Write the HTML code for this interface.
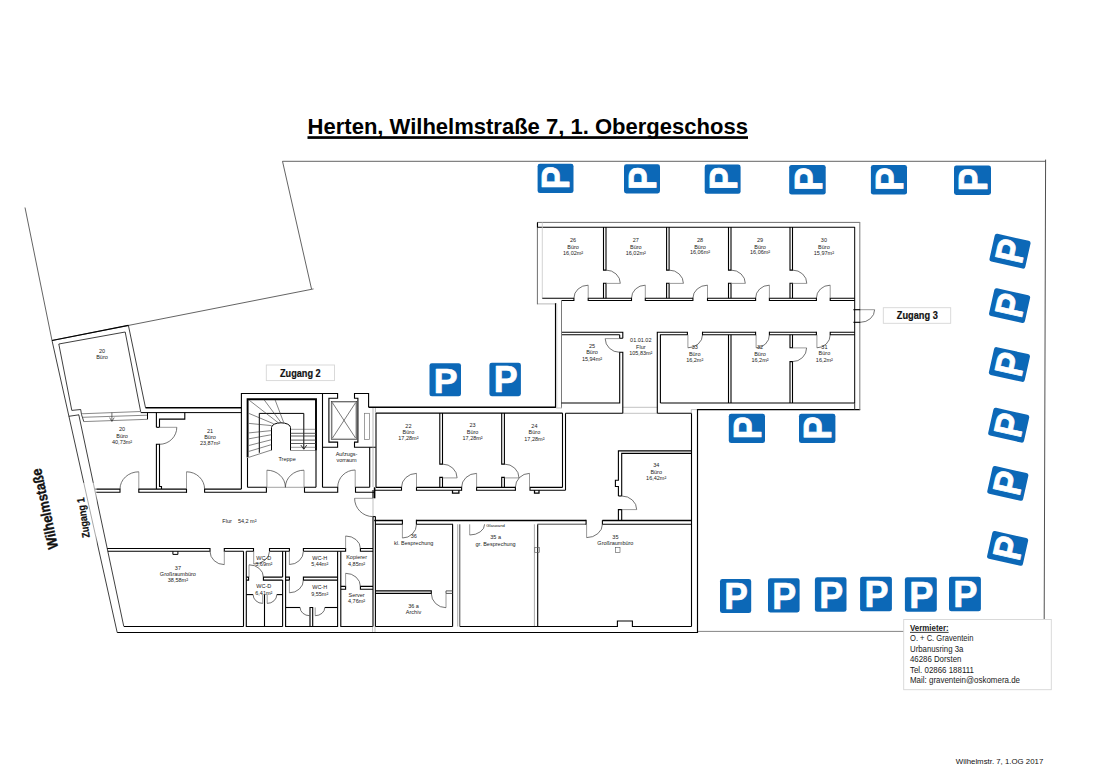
<!DOCTYPE html>
<html lang="de">
<head>
<meta charset="utf-8">
<title>Herten, Wilhelmstraße 7, 1. Obergeschoss</title>
<style>
html,body{margin:0;padding:0;background:#fff;}
body{width:1099px;height:774px;overflow:hidden;}
svg{display:block;}
svg text{font-family:"Liberation Sans",sans-serif;}
</style>
</head>
<body>
<svg width="1099" height="774" viewBox="0 0 1099 774">
<rect width="1099" height="774" fill="#fff"/>
<path d="M25 207.5 L52 340.5" fill="none" stroke="#3c3c3c" stroke-width="0.8" stroke-linejoin="miter"/>
<path d="M52 340.5 L311.6 289.3 L282.5 161.3 L1045.6 161.3" fill="none" stroke="#3c3c3c" stroke-width="0.8" stroke-linejoin="miter"/>
<line x1="1045.6" y1="159.6" x2="1044.2" y2="619" stroke="#3c3c3c" stroke-width="0.9"/>
<line x1="311.6" y1="289.3" x2="313.6" y2="288.9" stroke="#3c3c3c" stroke-width="0.7"/>
<line x1="697.5" y1="631.4" x2="904" y2="631.4" stroke="#777" stroke-width="0.9"/>
<line x1="52" y1="340.5" x2="128.4" y2="325.4" stroke="#000" stroke-width="1.25"/>
<line x1="128.4" y1="325.4" x2="145.5" y2="407.7" stroke="#000" stroke-width="0.75"/>
<line x1="52" y1="340.5" x2="117.2" y2="632.5" stroke="#000" stroke-width="0.75"/>
<path d="M71.8 410.4 L58.8 344 L125.2 332 L140.7 411.8" fill="none" stroke="#000" stroke-width="0.75" stroke-linejoin="miter"/>
<path d="M71.8 410.4 L80.7 409.5 L81.5 414.5 L83.8 421.6" fill="none" stroke="#000" stroke-width="0.75" stroke-linejoin="miter"/>
<line x1="68.8" y1="416.3" x2="79" y2="414.8" stroke="#000" stroke-width="0.75"/>
<line x1="78.8" y1="414.8" x2="123.8" y2="626.5" stroke="#000" stroke-width="0.75"/>
<line x1="81.1" y1="413.8" x2="140.7" y2="411.5" stroke="#555" stroke-width="0.7"/>
<line x1="82.5" y1="417.3" x2="147.5" y2="415.2" stroke="#555" stroke-width="0.7"/>
<line x1="83.8" y1="421.6" x2="147.5" y2="419.3" stroke="#555" stroke-width="0.7"/>
<line x1="147.5" y1="412.6" x2="147.5" y2="419.3" stroke="#000" stroke-width="1"/>
<line x1="111.9" y1="412.5" x2="111.9" y2="421.2" stroke="#333" stroke-width="0.7"/>
<path d="M109.6 417.6 L111.9 421.4 L114.2 417.6" fill="none" stroke="#333" stroke-width="0.7" stroke-linejoin="miter"/>
<line x1="145.5" y1="407.7" x2="241.4" y2="407.7" stroke="#000" stroke-width="1.5"/>
<line x1="140.7" y1="412.6" x2="241.4" y2="412.6" stroke="#000" stroke-width="1"/>
<path d="M159.5 427.3 L159.5 419.1 L184.8 419.1 L184.8 412.6" fill="none" stroke="#000" stroke-width="1.1" stroke-linejoin="miter"/>
<line x1="156.4" y1="412.6" x2="156.4" y2="427.3" stroke="#000" stroke-width="1.1"/>
<line x1="156.4" y1="427.3" x2="159.5" y2="427.3" stroke="#000" stroke-width="1.1"/>
<path d="M156.4 489.1 L156.4 444.3 L159.5 444.3 L159.5 486.5 L161.5 486.5 L161.5 489.1" fill="none" stroke="#000" stroke-width="1.1" stroke-linejoin="miter"/>
<line x1="159.5" y1="427.3" x2="176.8" y2="427.3" stroke="#7a7a7a" stroke-width="0.75"/>
<path d="M176.8 427.3 A17.3 17 0 0 1 159.5 444.3" fill="none" stroke="#444" stroke-width="0.75"/>
<path d="M95 489.1 L120 489.1 L120 492.3 L95.7 492.3" fill="none" stroke="#000" stroke-width="1.1" stroke-linejoin="miter"/>
<line x1="138.8" y1="489.1" x2="186.5" y2="489.1" stroke="#000" stroke-width="1.1"/>
<line x1="138.8" y1="492.3" x2="186.5" y2="492.3" stroke="#000" stroke-width="1.1"/>
<line x1="138.8" y1="488.55" x2="138.8" y2="492.85" stroke="#000" stroke-width="1.1"/>
<line x1="186.5" y1="488.55" x2="186.5" y2="492.85" stroke="#000" stroke-width="1.1"/>
<path d="M241.4 489.1 L204.6 489.1 L204.6 492.3 L266.4 492.3 L266.4 487.3 L247.5 487.3" fill="none" stroke="#000" stroke-width="1.1" stroke-linejoin="miter"/>
<line x1="138.8" y1="489.1" x2="138.8" y2="471.8" stroke="#7a7a7a" stroke-width="0.75"/>
<path d="M138.8 471.8 A18.8 17.3 0 0 0 120 489.1" fill="none" stroke="#444" stroke-width="0.75"/>
<line x1="186.5" y1="489.1" x2="186.5" y2="471.8" stroke="#7a7a7a" stroke-width="0.75"/>
<path d="M186.5 471.8 A18.1 17.3 0 0 1 204.6 489.1" fill="none" stroke="#444" stroke-width="0.75"/>
<path d="M241.4 489.1 L241.4 393.5 L337.6 393.5 L337.6 398.3 L328.9 398.3 L328.9 442.1 L337.6 442.1 L337.6 447.2 L322.5 447.2" fill="none" stroke="#000" stroke-width="1.1" stroke-linejoin="miter"/>
<line x1="322.5" y1="393.5" x2="322.5" y2="487.3" stroke="#000" stroke-width="1.1"/>
<path d="M247.6 457.5 L247.6 399.2 L316 399.2 L316 450.3" fill="none" stroke="#000" stroke-width="1.9" stroke-linejoin="miter"/>
<line x1="247.5" y1="458" x2="247.5" y2="487.3" stroke="#000" stroke-width="1.1"/>
<line x1="316" y1="450" x2="316" y2="487.3" stroke="#000" stroke-width="1.1"/>
<path d="M316 487.3 L304.5 487.3 L304.5 492.3 L337.7 492.3 L337.7 487.3 L322.5 487.3" fill="none" stroke="#000" stroke-width="1.1" stroke-linejoin="miter"/>
<path d="M369.7 487.3 L355.5 487.3 L355.5 492.3 L374.1 492.3" fill="none" stroke="#000" stroke-width="1.1" stroke-linejoin="miter"/>
<path d="M368.6 407.2 L368.6 393.5 L354.5 393.5 L354.5 398.3 L357.9 398.3 L357.9 442.1 L354.5 442.1 L354.5 447.2 L375.7 447.2" fill="none" stroke="#000" stroke-width="1.1" stroke-linejoin="miter"/>
<line x1="369.7" y1="447.2" x2="369.7" y2="487.3" stroke="#000" stroke-width="1.1"/>
<rect x="331.3" y="401.5" width="25.4" height="37.8" fill="none" stroke="#333" stroke-width="0.7"/>
<rect x="332.4" y="402.6" width="23.2" height="35.6" fill="none" stroke="#888" stroke-width="0.45"/>
<line x1="332.3" y1="402.5" x2="355.7" y2="438.3" stroke="#222" stroke-width="0.6"/>
<line x1="355.7" y1="402.5" x2="332.3" y2="438.3" stroke="#222" stroke-width="0.6"/>
<rect x="364.5" y="413.3" width="4.9" height="26.1" fill="none" stroke="#777" stroke-width="0.7"/>
<line x1="373" y1="407.2" x2="373" y2="487" stroke="#999" stroke-width="0.7"/>
<line x1="375.4" y1="407.2" x2="375.4" y2="413" stroke="#999" stroke-width="0.7"/>
<path d="M259.3 452.8 L259.3 413.4 L303.8 413.4 L303.8 448.8" fill="none" stroke="#000" stroke-width="1" stroke-linejoin="miter"/>
<path d="M300.9 445.1 L303.8 449.3 L306.7 445.1" fill="none" stroke="#000" stroke-width="0.8" stroke-linejoin="miter"/>
<path d="M271.5 450.3 V427.5 A9.5 4.7 0 0 1 290.5 427.5 V450.3" fill="none" stroke="#000" stroke-width="1"/>
<line x1="290.5" y1="429.3" x2="316" y2="429.3" stroke="#333" stroke-width="0.5"/>
<line x1="290.5" y1="433.3" x2="316" y2="433.3" stroke="#333" stroke-width="0.8"/>
<line x1="290.5" y1="436" x2="316" y2="436" stroke="#333" stroke-width="0.8"/>
<line x1="290.5" y1="440.1" x2="316" y2="440.1" stroke="#333" stroke-width="0.8"/>
<line x1="290.5" y1="443.5" x2="316" y2="443.5" stroke="#333" stroke-width="0.8"/>
<line x1="290.5" y1="447.3" x2="316" y2="447.3" stroke="#333" stroke-width="0.5"/>
<line x1="290.5" y1="450.5" x2="316" y2="450.5" stroke="#333" stroke-width="0.5"/>
<line x1="248.9" y1="457.3" x2="271.5" y2="450" stroke="#333" stroke-width="0.6"/>
<line x1="248.9" y1="451.4" x2="271.5" y2="444.6" stroke="#333" stroke-width="0.6"/>
<line x1="248.9" y1="445.5" x2="271.5" y2="439.7" stroke="#333" stroke-width="0.6"/>
<line x1="248.9" y1="438.8" x2="271.5" y2="434.7" stroke="#333" stroke-width="0.6"/>
<line x1="248.9" y1="432.9" x2="271.5" y2="430.6" stroke="#333" stroke-width="0.6"/>
<line x1="248.9" y1="423.4" x2="271.5" y2="425.6" stroke="#333" stroke-width="0.6"/>
<line x1="248.9" y1="413.4" x2="273.7" y2="423.8" stroke="#333" stroke-width="0.6"/>
<line x1="249.3" y1="400.3" x2="278.3" y2="422.8" stroke="#333" stroke-width="0.6"/>
<line x1="264.2" y1="399.9" x2="281" y2="422.5" stroke="#333" stroke-width="0.6"/>
<line x1="275.1" y1="399.9" x2="283.7" y2="422.5" stroke="#333" stroke-width="0.6"/>
<line x1="266.4" y1="487.3" x2="304.5" y2="487.3" stroke="#7a7a7a" stroke-width="0.7"/>
<line x1="266.9" y1="487.3" x2="266.9" y2="470.2" stroke="#7a7a7a" stroke-width="0.75"/>
<path d="M266.9 470.2 A18.5 17.1 0 0 1 285.4 487.3" fill="none" stroke="#444" stroke-width="0.75"/>
<line x1="304" y1="487.3" x2="304" y2="470.2" stroke="#7a7a7a" stroke-width="0.75"/>
<path d="M304 470.2 A18.6 17.1 0 0 0 285.4 487.3" fill="none" stroke="#444" stroke-width="0.75"/>
<line x1="355.2" y1="487.3" x2="355.2" y2="470" stroke="#7a7a7a" stroke-width="0.75"/>
<path d="M355.2 470 A17.5 17.3 0 0 0 337.7 487.3" fill="none" stroke="#444" stroke-width="0.75"/>
<path d="M107.2 548.5 L210 548.5 L210 551.3 L107.8 551.3" fill="none" stroke="#000" stroke-width="1.1" stroke-linejoin="miter"/>
<path d="M172.9 551.3 L172.9 554.4 L177.9 554.4 L177.9 551.3" fill="none" stroke="#000" stroke-width="1" stroke-linejoin="miter"/>
<path d="M243.5 551.3 L224.3 551.3 L224.3 548.5 L253.5 548.5 L253.5 551.3 L246.3 551.3" fill="none" stroke="#000" stroke-width="1.1" stroke-linejoin="miter"/>
<line x1="224.3" y1="551.3" x2="224.3" y2="564.6" stroke="#7a7a7a" stroke-width="0.75"/>
<path d="M224.3 564.6 A14.3 13.3 0 0 1 210 551.3" fill="none" stroke="#444" stroke-width="0.75"/>
<line x1="124" y1="626.5" x2="243.5" y2="626.5" stroke="#000" stroke-width="1.1"/>
<line x1="243.5" y1="551.3" x2="243.5" y2="626.5" stroke="#000" stroke-width="1.1"/>
<line x1="117.2" y1="632.5" x2="697.5" y2="632.5" stroke="#000" stroke-width="1.15"/>
<path d="M246.3 551.3 L246.3 626.5 L282.6 626.5" fill="none" stroke="#000" stroke-width="1.1" stroke-linejoin="miter"/>
<line x1="264.5" y1="594.6" x2="264.5" y2="626.5" stroke="#000" stroke-width="1.1"/>
<path d="M269.5 551.3 L269.5 548.5 L289.4 548.5 L289.4 551.3 L269.5 551.3" fill="none" stroke="#000" stroke-width="1.1" stroke-linejoin="miter"/>
<line x1="282.6" y1="551.3" x2="282.6" y2="577.1" stroke="#000" stroke-width="1.1"/>
<path d="M282.6 577.1 L263.4 577.1 L263.4 580.1 L282.6 580.1" fill="none" stroke="#000" stroke-width="1.1" stroke-linejoin="miter"/>
<line x1="282.6" y1="580.1" x2="282.6" y2="626.5" stroke="#000" stroke-width="1.1"/>
<path d="M246.3 577.1 L248.6 577.1 L248.6 580.1 L246.3 580.1" fill="none" stroke="#000" stroke-width="1.1" stroke-linejoin="miter"/>
<line x1="246.3" y1="594.6" x2="253.1" y2="594.6" stroke="#000" stroke-width="1.1"/>
<line x1="276.8" y1="594.6" x2="282.6" y2="594.6" stroke="#000" stroke-width="1.1"/>
<line x1="262.7" y1="594.6" x2="262.7" y2="603.4" stroke="#7a7a7a" stroke-width="0.75"/>
<path d="M262.7 603.4 A9.6 8.8 0 0 1 253.1 594.6" fill="none" stroke="#444" stroke-width="0.75"/>
<line x1="267.2" y1="594.6" x2="267.2" y2="603.4" stroke="#7a7a7a" stroke-width="0.75"/>
<path d="M267.2 603.4 A9.6 8.8 0 0 0 276.8 594.6" fill="none" stroke="#444" stroke-width="0.75"/>
<line x1="249" y1="577.1" x2="249" y2="564.8" stroke="#7a7a7a" stroke-width="0.75"/>
<path d="M249 564.8 A14.4 12.3 0 0 1 263.4 577.1" fill="none" stroke="#444" stroke-width="0.75"/>
<line x1="253.7" y1="551.3" x2="253.7" y2="564" stroke="#7a7a7a" stroke-width="0.75"/>
<path d="M253.7 564 A15.8 12.7 0 0 0 269.5 551.3" fill="none" stroke="#444" stroke-width="0.75"/>
<path d="M285.6 551.3 L285.6 626.5 L337.6 626.5 L337.6 551.3" fill="none" stroke="#000" stroke-width="1.1" stroke-linejoin="miter"/>
<path d="M303.4 551.3 L303.4 548.5 L345.6 548.5 L345.6 551.3 L303.4 551.3" fill="none" stroke="#000" stroke-width="1.1" stroke-linejoin="miter"/>
<path d="M285.6 577.1 L289.4 577.1 L289.4 580.1 L285.6 580.1" fill="none" stroke="#000" stroke-width="1.1" stroke-linejoin="miter"/>
<path d="M337.6 577.1 L303.4 577.1 L303.4 580.1 L337.6 580.1" fill="none" stroke="#000" stroke-width="1.1" stroke-linejoin="miter"/>
<line x1="289.4" y1="551.3" x2="289.4" y2="564.5" stroke="#7a7a7a" stroke-width="0.75"/>
<path d="M289.4 564.5 A14 13.2 0 0 0 303.4 551.3" fill="none" stroke="#444" stroke-width="0.75"/>
<line x1="289.4" y1="580.1" x2="289.4" y2="592.8" stroke="#7a7a7a" stroke-width="0.75"/>
<path d="M289.4 592.8 A14 12.7 0 0 0 303.4 580.1" fill="none" stroke="#444" stroke-width="0.75"/>
<line x1="285.6" y1="607.5" x2="300.1" y2="607.5" stroke="#000" stroke-width="1.1"/>
<line x1="324.8" y1="607.5" x2="337.6" y2="607.5" stroke="#000" stroke-width="1.1"/>
<path d="M310 626.5 L310 607.5 L312.7 607.5 L312.7 626.5" fill="none" stroke="#000" stroke-width="1.1" stroke-linejoin="miter"/>
<line x1="309.7" y1="607.5" x2="309.7" y2="615.7" stroke="#7a7a7a" stroke-width="0.75"/>
<path d="M309.7 615.7 A9.6 8.2 0 0 1 300.1 607.5" fill="none" stroke="#444" stroke-width="0.75"/>
<line x1="315.2" y1="607.5" x2="315.2" y2="615.7" stroke="#7a7a7a" stroke-width="0.75"/>
<path d="M315.2 615.7 A9.6 8.2 0 0 0 324.8 607.5" fill="none" stroke="#444" stroke-width="0.75"/>
<path d="M340.8 551.3 L340.8 626.5 L373 626.5" fill="none" stroke="#000" stroke-width="1.1" stroke-linejoin="miter"/>
<path d="M373 551.3 L360.4 551.3 L360.4 548.5 L373 548.5" fill="none" stroke="#000" stroke-width="1.1" stroke-linejoin="miter"/>
<line x1="345.6" y1="548.5" x2="345.6" y2="536" stroke="#7a7a7a" stroke-width="0.75"/>
<path d="M345.6 536 A14.8 12.5 0 0 1 360.4 548.5" fill="none" stroke="#444" stroke-width="0.75"/>
<path d="M340.8 586.4 L345.6 586.4 L345.6 589.2 L340.8 589.2" fill="none" stroke="#000" stroke-width="1.1" stroke-linejoin="miter"/>
<path d="M373 586.4 L360.4 586.4 L360.4 589.2 L373 589.2" fill="none" stroke="#000" stroke-width="1.1" stroke-linejoin="miter"/>
<line x1="345.6" y1="586.4" x2="345.6" y2="573.3" stroke="#7a7a7a" stroke-width="0.75"/>
<path d="M345.6 573.3 A14.8 13.1 0 0 1 360.4 586.4" fill="none" stroke="#444" stroke-width="0.75"/>
<line x1="373" y1="498.3" x2="373" y2="490" stroke="#000" stroke-width="1.1"/>
<line x1="374.6" y1="487.3" x2="374.6" y2="498.3" stroke="#000" stroke-width="1.6"/>
<line x1="373" y1="516.6" x2="373" y2="626.5" stroke="#000" stroke-width="1.1"/>
<line x1="375.4" y1="516.6" x2="375.4" y2="626.5" stroke="#000" stroke-width="1.1"/>
<line x1="373" y1="516.6" x2="375.4" y2="516.6" stroke="#000" stroke-width="1.1"/>
<line x1="372.6" y1="626.5" x2="372.6" y2="632" stroke="#999" stroke-width="0.6"/>
<line x1="375" y1="626.5" x2="375" y2="632" stroke="#999" stroke-width="0.6"/>
<line x1="373" y1="498.3" x2="373" y2="516.6" stroke="#999" stroke-width="0.6"/>
<line x1="372.9" y1="498.3" x2="354.6" y2="498.3" stroke="#7a7a7a" stroke-width="0.75"/>
<path d="M354.6 498.3 A18.3 18.3 0 0 0 372.9 516.6" fill="none" stroke="#444" stroke-width="0.75"/>
<line x1="368.6" y1="407.2" x2="555.4" y2="407.2" stroke="#000" stroke-width="1.4"/>
<line x1="376" y1="413.1" x2="562.5" y2="413.1" stroke="#000" stroke-width="1.1"/>
<line x1="376" y1="413.1" x2="376" y2="487.4" stroke="#000" stroke-width="1.1"/>
<path d="M439.8 413.1 L439.8 464.1 L442.5 464.1 L442.5 413.1" fill="none" stroke="#000" stroke-width="1.1" stroke-linejoin="miter"/>
<path d="M439.8 487.4 L439.8 477.4 L442.5 477.4 L442.5 487.4" fill="none" stroke="#000" stroke-width="1.1" stroke-linejoin="miter"/>
<line x1="442.5" y1="477.9" x2="457.1" y2="477.9" stroke="#7a7a7a" stroke-width="0.75"/>
<path d="M457.1 477.9 A14.6 13.8 0 0 0 442.5 464.1" fill="none" stroke="#444" stroke-width="0.75"/>
<path d="M501.7 413.1 L501.7 464.1 L504.4 464.1 L504.4 413.1" fill="none" stroke="#000" stroke-width="1.1" stroke-linejoin="miter"/>
<path d="M501.7 487.4 L501.7 477.4 L504.4 477.4 L504.4 487.4" fill="none" stroke="#000" stroke-width="1.1" stroke-linejoin="miter"/>
<line x1="504.4" y1="477.9" x2="519" y2="477.9" stroke="#7a7a7a" stroke-width="0.75"/>
<path d="M519 477.9 A14.6 13.8 0 0 0 504.4 464.1" fill="none" stroke="#444" stroke-width="0.75"/>
<line x1="562.5" y1="413.1" x2="562.5" y2="487.4" stroke="#000" stroke-width="1.1"/>
<line x1="565.5" y1="413.3" x2="565.5" y2="490.2" stroke="#000" stroke-width="1.1"/>
<path d="M376 487.4 L401.5 487.4 L401.5 490.2 L374.6 490.2" fill="none" stroke="#000" stroke-width="1.1" stroke-linejoin="miter"/>
<line x1="416.5" y1="487.4" x2="461.6" y2="487.4" stroke="#000" stroke-width="1.1"/>
<line x1="416.5" y1="490.2" x2="461.6" y2="490.2" stroke="#000" stroke-width="1.1"/>
<line x1="416.5" y1="486.85" x2="416.5" y2="490.75" stroke="#000" stroke-width="1.1"/>
<line x1="461.6" y1="486.85" x2="461.6" y2="490.75" stroke="#000" stroke-width="1.1"/>
<line x1="476.6" y1="487.4" x2="515.4" y2="487.4" stroke="#000" stroke-width="1.1"/>
<line x1="476.6" y1="490.2" x2="515.4" y2="490.2" stroke="#000" stroke-width="1.1"/>
<line x1="476.6" y1="486.85" x2="476.6" y2="490.75" stroke="#000" stroke-width="1.1"/>
<line x1="515.4" y1="486.85" x2="515.4" y2="490.75" stroke="#000" stroke-width="1.1"/>
<path d="M562.5 487.4 L530 487.4 L530 490.2 L565.5 490.2" fill="none" stroke="#000" stroke-width="1.1" stroke-linejoin="miter"/>
<path d="M452.5 490.2 L452.5 493.2 L458.9 493.2 L458.9 490.2" fill="none" stroke="#000" stroke-width="1.25" stroke-linejoin="miter"/>
<path d="M534.5 490.2 L534.5 493.2 L539 493.2 L539 490.2" fill="none" stroke="#000" stroke-width="1.25" stroke-linejoin="miter"/>
<line x1="416.5" y1="487.4" x2="416.5" y2="473.4" stroke="#7a7a7a" stroke-width="0.75"/>
<path d="M416.5 473.4 A15 14 0 0 0 401.5 487.4" fill="none" stroke="#444" stroke-width="0.75"/>
<line x1="476.6" y1="487.4" x2="476.6" y2="473.4" stroke="#7a7a7a" stroke-width="0.75"/>
<path d="M476.6 473.4 A15 14 0 0 0 461.6 487.4" fill="none" stroke="#444" stroke-width="0.75"/>
<line x1="529.5" y1="487.4" x2="529.5" y2="473.4" stroke="#7a7a7a" stroke-width="0.75"/>
<path d="M529.5 473.4 A14.1 14 0 0 0 515.4 487.4" fill="none" stroke="#444" stroke-width="0.75"/>
<line x1="374.2" y1="520.5" x2="402.4" y2="520.5" stroke="#000" stroke-width="1.5"/>
<line x1="402.4" y1="519.8" x2="402.4" y2="524.7" stroke="#000" stroke-width="1.1"/>
<line x1="375.4" y1="524.2" x2="402.4" y2="524.2" stroke="#000" stroke-width="1.1"/>
<line x1="416.4" y1="520.5" x2="586.1" y2="520.5" stroke="#000" stroke-width="1.5"/>
<line x1="416.4" y1="519.8" x2="416.4" y2="524.7" stroke="#000" stroke-width="1.1"/>
<line x1="416.4" y1="524.2" x2="453" y2="524.2" stroke="#000" stroke-width="1.1"/>
<line x1="537.4" y1="524.2" x2="586.1" y2="524.2" stroke="#333" stroke-width="0.9"/>
<line x1="586.1" y1="519.8" x2="586.1" y2="524.7" stroke="#000" stroke-width="1.1"/>
<line x1="602.4" y1="520.5" x2="691.5" y2="520.5" stroke="#000" stroke-width="1.5"/>
<path d="M691.5 524.3 L602.4 524.3 L602.4 520.3" fill="none" stroke="#000" stroke-width="1.1" stroke-linejoin="miter"/>
<line x1="452.6" y1="524.3" x2="452.6" y2="626.5" stroke="#000" stroke-width="1.1"/>
<path d="M375.4 590.9 L431.3 590.9 L431.3 593.4 L375.4 593.4" fill="none" stroke="#000" stroke-width="1.1" stroke-linejoin="miter"/>
<path d="M452.6 590.9 L446 590.9 L446 593.4 L452.6 593.4" fill="none" stroke="#444" stroke-width="0.9" stroke-linejoin="miter"/>
<line x1="446" y1="593.4" x2="446" y2="607.7" stroke="#7a7a7a" stroke-width="0.75"/>
<path d="M446 607.7 A14.7 14.3 0 0 1 431.3 593.4" fill="none" stroke="#444" stroke-width="0.75"/>
<line x1="402.4" y1="524.3" x2="402.4" y2="538" stroke="#7a7a7a" stroke-width="0.75"/>
<path d="M402.4 538 A14.1 13.7 0 0 0 416.5 524.3" fill="none" stroke="#444" stroke-width="0.75"/>
<line x1="375.4" y1="626.5" x2="452.6" y2="626.5" stroke="#000" stroke-width="1.1"/>
<line x1="457.7" y1="524.3" x2="457.7" y2="626.5" stroke="#888" stroke-width="0.7"/>
<line x1="459.8" y1="524.3" x2="459.8" y2="626.5" stroke="#333" stroke-width="0.9"/>
<line x1="534.4" y1="524.3" x2="534.4" y2="626.5" stroke="#888" stroke-width="0.7"/>
<line x1="459.8" y1="626.5" x2="537.7" y2="626.5" stroke="#000" stroke-width="1.1"/>
<line x1="469.7" y1="524.3" x2="469.7" y2="535" stroke="#7a7a7a" stroke-width="0.75"/>
<path d="M469.7 535 A14.9 10.7 0 0 0 484.6 524.3" fill="none" stroke="#444" stroke-width="0.75"/>
<path d="M537.7 524.5 L537.7 626.5 L617.4 626.5 L617.4 621 L632.4 621 L632.4 626.5 L691.5 626.5" fill="none" stroke="#000" stroke-width="1.1" stroke-linejoin="miter"/>
<line x1="691.5" y1="413.3" x2="691.5" y2="626.5" stroke="#000" stroke-width="1.1"/>
<line x1="586.6" y1="524.3" x2="586.6" y2="537.6" stroke="#7a7a7a" stroke-width="0.75"/>
<path d="M586.6 537.6 A15.8 13.3 0 0 0 602.4 524.3" fill="none" stroke="#444" stroke-width="0.75"/>
<rect x="534.8" y="547.6" width="4.8" height="5" fill="none" stroke="#555" stroke-width="0.6"/>
<rect x="615.4" y="547.6" width="4.6" height="5" fill="none" stroke="#555" stroke-width="0.6"/>
<path d="M618.4 496 L618.4 486.5 L615.4 486.5 L615.4 480.3 L618.4 480.3 L618.4 450.9 L691.5 450.9" fill="none" stroke="#000" stroke-width="1.1" stroke-linejoin="miter"/>
<path d="M621.7 496 L621.7 453.4 L691.5 453.4" fill="none" stroke="#000" stroke-width="1.1" stroke-linejoin="miter"/>
<line x1="618.4" y1="496" x2="621.7" y2="496" stroke="#000" stroke-width="1.1"/>
<path d="M618.4 520.3 L618.4 509.6 L621.7 509.6 L621.7 520.3" fill="none" stroke="#000" stroke-width="1.1" stroke-linejoin="miter"/>
<line x1="621.7" y1="509.6" x2="636.7" y2="509.6" stroke="#7a7a7a" stroke-width="0.75"/>
<path d="M636.7 509.6 A15 13.6 0 0 0 621.7 496" fill="none" stroke="#444" stroke-width="0.75"/>
<line x1="565.5" y1="413.3" x2="622.8" y2="413.3" stroke="#000" stroke-width="1.1"/>
<line x1="657.3" y1="413.3" x2="691.5" y2="413.3" stroke="#000" stroke-width="1.1"/>
<line x1="622.8" y1="407.3" x2="657.3" y2="407.3" stroke="#999" stroke-width="0.6"/>
<line x1="622.8" y1="413.3" x2="657.3" y2="413.3" stroke="#999" stroke-width="0.6"/>
<line x1="691.3" y1="409.6" x2="691.3" y2="413.3" stroke="#999" stroke-width="0.6"/>
<line x1="691.3" y1="409.6" x2="697.5" y2="409.6" stroke="#999" stroke-width="0.6"/>
<path d="M697.5 633 L697.5 409.6 L860.2 409.6" fill="none" stroke="#000" stroke-width="1.15" stroke-linejoin="miter"/>
<path d="M555.1 303.9 L537.4 303.9" fill="none" stroke="#b8b8b8" stroke-width="1" stroke-linejoin="miter"/>
<path d="M537.4 304.3 L537.4 222.4 L860 222.4" fill="none" stroke="#4a4a4a" stroke-width="0.8" stroke-linejoin="miter"/>
<line x1="859.8" y1="222" x2="859.8" y2="409.8" stroke="#858585" stroke-width="1.1"/>
<line x1="537.4" y1="227.3" x2="854.8" y2="227.3" stroke="#000" stroke-width="1.1"/>
<line x1="537.5" y1="222.4" x2="537.5" y2="227.3" stroke="#000" stroke-width="1.1"/>
<line x1="542.3" y1="222.4" x2="542.3" y2="298.4" stroke="#c8c8c8" stroke-width="0.8"/>
<path d="M603.5 227 L603.5 270.1 L606 270.1 L606 227" fill="none" stroke="#000" stroke-width="1.1" stroke-linejoin="miter"/>
<path d="M603.5 298.2 L603.5 283.2 L606 283.2 L606 298.2" fill="none" stroke="#000" stroke-width="1.1" stroke-linejoin="miter"/>
<line x1="606" y1="283.4" x2="620.3" y2="283.4" stroke="#7a7a7a" stroke-width="0.75"/>
<path d="M620.3 283.4 A14.3 13.3 0 0 0 606 270.1" fill="none" stroke="#444" stroke-width="0.75"/>
<path d="M666.6 227 L666.6 270.1 L669.1 270.1 L669.1 227" fill="none" stroke="#000" stroke-width="1.1" stroke-linejoin="miter"/>
<path d="M666.6 298.2 L666.6 283.2 L669.1 283.2 L669.1 298.2" fill="none" stroke="#000" stroke-width="1.1" stroke-linejoin="miter"/>
<line x1="669.1" y1="283.4" x2="683.4" y2="283.4" stroke="#7a7a7a" stroke-width="0.75"/>
<path d="M683.4 283.4 A14.3 13.3 0 0 0 669.1 270.1" fill="none" stroke="#444" stroke-width="0.75"/>
<path d="M728.5 227 L728.5 270.1 L731 270.1 L731 227" fill="none" stroke="#000" stroke-width="1.1" stroke-linejoin="miter"/>
<path d="M728.5 298.2 L728.5 283.2 L731 283.2 L731 298.2" fill="none" stroke="#000" stroke-width="1.1" stroke-linejoin="miter"/>
<line x1="731" y1="283.4" x2="745.3" y2="283.4" stroke="#7a7a7a" stroke-width="0.75"/>
<path d="M745.3 283.4 A14.3 13.3 0 0 0 731 270.1" fill="none" stroke="#444" stroke-width="0.75"/>
<path d="M790 227 L790 270.1 L792.5 270.1 L792.5 227" fill="none" stroke="#000" stroke-width="1.1" stroke-linejoin="miter"/>
<path d="M790 298.2 L790 283.2 L792.5 283.2 L792.5 298.2" fill="none" stroke="#000" stroke-width="1.1" stroke-linejoin="miter"/>
<line x1="792.5" y1="283.4" x2="806.8" y2="283.4" stroke="#7a7a7a" stroke-width="0.75"/>
<path d="M806.8 283.4 A14.3 13.3 0 0 0 792.5 270.1" fill="none" stroke="#444" stroke-width="0.75"/>
<path d="M542.3 298.2 L573.9 298.2 L573.9 300.5 L561.5 300.5" fill="none" stroke="#000" stroke-width="1.1" stroke-linejoin="miter"/>
<line x1="588.2" y1="298.2" x2="631.5" y2="298.2" stroke="#000" stroke-width="1.1"/>
<line x1="588.2" y1="300.5" x2="631.5" y2="300.5" stroke="#000" stroke-width="1.1"/>
<line x1="588.2" y1="297.65" x2="588.2" y2="301.05" stroke="#000" stroke-width="1.1"/>
<line x1="631.5" y1="297.65" x2="631.5" y2="301.05" stroke="#000" stroke-width="1.1"/>
<line x1="645.3" y1="298.2" x2="692.9" y2="298.2" stroke="#000" stroke-width="1.1"/>
<line x1="645.3" y1="300.5" x2="692.9" y2="300.5" stroke="#000" stroke-width="1.1"/>
<line x1="645.3" y1="297.65" x2="645.3" y2="301.05" stroke="#000" stroke-width="1.1"/>
<line x1="692.9" y1="297.65" x2="692.9" y2="301.05" stroke="#000" stroke-width="1.1"/>
<line x1="707.5" y1="298.2" x2="755.6" y2="298.2" stroke="#000" stroke-width="1.1"/>
<line x1="707.5" y1="300.5" x2="755.6" y2="300.5" stroke="#000" stroke-width="1.1"/>
<line x1="707.5" y1="297.65" x2="707.5" y2="301.05" stroke="#000" stroke-width="1.1"/>
<line x1="755.6" y1="297.65" x2="755.6" y2="301.05" stroke="#000" stroke-width="1.1"/>
<line x1="769.4" y1="298.2" x2="816.4" y2="298.2" stroke="#000" stroke-width="1.1"/>
<line x1="769.4" y1="300.5" x2="816.4" y2="300.5" stroke="#000" stroke-width="1.1"/>
<line x1="769.4" y1="297.65" x2="769.4" y2="301.05" stroke="#000" stroke-width="1.1"/>
<line x1="816.4" y1="297.65" x2="816.4" y2="301.05" stroke="#000" stroke-width="1.1"/>
<path d="M854.8 298.2 L830.2 298.2 L830.2 300.5 L854.8 300.5" fill="none" stroke="#000" stroke-width="1.1" stroke-linejoin="miter"/>
<line x1="588.2" y1="298.2" x2="588.2" y2="285.2" stroke="#7a7a7a" stroke-width="0.75"/>
<path d="M588.2 285.2 A14.3 13 0 0 0 573.9 298.2" fill="none" stroke="#444" stroke-width="0.75"/>
<line x1="645.3" y1="298.2" x2="645.3" y2="285.2" stroke="#7a7a7a" stroke-width="0.75"/>
<path d="M645.3 285.2 A13.8 13 0 0 0 631.5 298.2" fill="none" stroke="#444" stroke-width="0.75"/>
<line x1="707.5" y1="298.2" x2="707.5" y2="285.2" stroke="#7a7a7a" stroke-width="0.75"/>
<path d="M707.5 285.2 A14.6 13 0 0 0 692.9 298.2" fill="none" stroke="#444" stroke-width="0.75"/>
<line x1="769.4" y1="298.2" x2="769.4" y2="285.2" stroke="#7a7a7a" stroke-width="0.75"/>
<path d="M769.4 285.2 A13.8 13 0 0 0 755.6 298.2" fill="none" stroke="#444" stroke-width="0.75"/>
<line x1="830.2" y1="298.2" x2="830.2" y2="285.2" stroke="#7a7a7a" stroke-width="0.75"/>
<path d="M830.2 285.2 A13.8 13 0 0 0 816.4 298.2" fill="none" stroke="#444" stroke-width="0.75"/>
<path d="M561.4 332.3 L622.8 332.3 L622.8 338.3" fill="none" stroke="#000" stroke-width="1.1" stroke-linejoin="miter"/>
<line x1="561.4" y1="334.8" x2="619.7" y2="334.8" stroke="#000" stroke-width="1.1"/>
<path d="M657.3 413.3 L657.3 332.3 L687.4 332.3 L687.4 334.8 L660.4 334.8 L660.4 403" fill="none" stroke="#000" stroke-width="1.1" stroke-linejoin="miter"/>
<line x1="702.5" y1="332.3" x2="755.6" y2="332.3" stroke="#000" stroke-width="1.1"/>
<line x1="702.5" y1="334.8" x2="755.6" y2="334.8" stroke="#000" stroke-width="1.1"/>
<line x1="702.5" y1="331.75" x2="702.5" y2="335.35" stroke="#000" stroke-width="1.1"/>
<line x1="755.6" y1="331.75" x2="755.6" y2="335.35" stroke="#000" stroke-width="1.1"/>
<line x1="769.4" y1="332.3" x2="816.4" y2="332.3" stroke="#000" stroke-width="1.1"/>
<line x1="769.4" y1="334.8" x2="816.4" y2="334.8" stroke="#000" stroke-width="1.1"/>
<line x1="769.4" y1="331.75" x2="769.4" y2="335.35" stroke="#000" stroke-width="1.1"/>
<line x1="816.4" y1="331.75" x2="816.4" y2="335.35" stroke="#000" stroke-width="1.1"/>
<path d="M854.8 332.3 L830.2 332.3 L830.2 334.8 L854.8 334.8" fill="none" stroke="#000" stroke-width="1.1" stroke-linejoin="miter"/>
<line x1="555.6" y1="303.2" x2="555.6" y2="407.9" stroke="#000" stroke-width="1.35"/>
<line x1="561.5" y1="300.5" x2="561.5" y2="408" stroke="#7a7a7a" stroke-width="1"/>
<line x1="557" y1="304" x2="557" y2="408" stroke="#e6e6e6" stroke-width="1"/>
<line x1="556.2" y1="408" x2="562" y2="408" stroke="#b5b5b5" stroke-width="0.9"/>
<path d="M619.7 334.8 L619.7 338.3 L622.8 338.3" fill="none" stroke="#000" stroke-width="1.1" stroke-linejoin="miter"/>
<path d="M622.8 413.3 L622.8 352.3 L619.7 352.3 L619.7 403 L561.4 403" fill="none" stroke="#000" stroke-width="1.1" stroke-linejoin="miter"/>
<line x1="619.7" y1="338.6" x2="605.2" y2="338.6" stroke="#7a7a7a" stroke-width="0.75"/>
<path d="M605.2 338.6 A14.5 13.7 0 0 0 619.7 352.3" fill="none" stroke="#444" stroke-width="0.75"/>
<line x1="660.4" y1="403" x2="854.8" y2="403" stroke="#000" stroke-width="1.1"/>
<line x1="728.5" y1="334.8" x2="728.5" y2="403" stroke="#000" stroke-width="1.1"/>
<line x1="731" y1="334.8" x2="731" y2="403" stroke="#000" stroke-width="1.1"/>
<path d="M790 334.8 L790 347.8 L792.5 347.8 L792.5 334.8" fill="none" stroke="#000" stroke-width="1.1" stroke-linejoin="miter"/>
<path d="M790 403 L790 361.6 L792.5 361.6 L792.5 403" fill="none" stroke="#000" stroke-width="1.1" stroke-linejoin="miter"/>
<line x1="792.5" y1="347.9" x2="806.6" y2="347.9" stroke="#7a7a7a" stroke-width="0.75"/>
<path d="M806.6 347.9 A14.1 13.7 0 0 1 792.5 361.6" fill="none" stroke="#444" stroke-width="0.75"/>
<line x1="687.9" y1="334.8" x2="687.9" y2="347.8" stroke="#7a7a7a" stroke-width="0.75"/>
<path d="M687.9 347.8 A14.6 13 0 0 0 702.5 334.8" fill="none" stroke="#444" stroke-width="0.75"/>
<line x1="756.1" y1="334.8" x2="756.1" y2="347.8" stroke="#7a7a7a" stroke-width="0.75"/>
<path d="M756.1 347.8 A13.3 13 0 0 0 769.4 334.8" fill="none" stroke="#444" stroke-width="0.75"/>
<line x1="816.9" y1="334.8" x2="816.9" y2="347.8" stroke="#7a7a7a" stroke-width="0.75"/>
<path d="M816.9 347.8 A13.3 13 0 0 0 830.2 334.8" fill="none" stroke="#444" stroke-width="0.75"/>
<line x1="854.7" y1="227" x2="854.7" y2="403" stroke="#000" stroke-width="1"/>
<line x1="853.4" y1="309.7" x2="860.4" y2="309.7" stroke="#000" stroke-width="1.1"/>
<line x1="853.4" y1="322.3" x2="860.4" y2="322.3" stroke="#000" stroke-width="1.1"/>
<line x1="860.3" y1="309.7" x2="874.6" y2="309.7" stroke="#7a7a7a" stroke-width="0.75"/>
<path d="M874.6 309.7 A14.3 12.6 0 0 1 860.3 322.3" fill="none" stroke="#444" stroke-width="0.75"/>
<line x1="854.7" y1="403" x2="854.7" y2="409.8" stroke="#333" stroke-width="1"/>
<text x="573.1" y="242.2" font-size="5.5" text-anchor="middle" fill="#1a1a1a">26</text>
<text x="573.1" y="248.5" font-size="5.5" text-anchor="middle" fill="#1a1a1a">Büro</text>
<text x="573.1" y="255.1" font-size="5.5" text-anchor="middle" fill="#1a1a1a">16,02m²</text>
<text x="635.8" y="242.2" font-size="5.5" text-anchor="middle" fill="#1a1a1a">27</text>
<text x="635.8" y="248.5" font-size="5.5" text-anchor="middle" fill="#1a1a1a">Büro</text>
<text x="635.8" y="255.1" font-size="5.5" text-anchor="middle" fill="#1a1a1a">16,02m²</text>
<text x="700" y="242.2" font-size="5.5" text-anchor="middle" fill="#1a1a1a">28</text>
<text x="700" y="248.5" font-size="5.5" text-anchor="middle" fill="#1a1a1a">Büro</text>
<text x="700" y="254.3" font-size="5.5" text-anchor="middle" fill="#1a1a1a">16,06m²</text>
<text x="760.1" y="242.2" font-size="5.5" text-anchor="middle" fill="#1a1a1a">29</text>
<text x="760.1" y="248.5" font-size="5.5" text-anchor="middle" fill="#1a1a1a">Büro</text>
<text x="760.1" y="254.3" font-size="5.5" text-anchor="middle" fill="#1a1a1a">16,06m²</text>
<text x="823.9" y="242.2" font-size="5.5" text-anchor="middle" fill="#1a1a1a">30</text>
<text x="823.9" y="248.5" font-size="5.5" text-anchor="middle" fill="#1a1a1a">Büro</text>
<text x="823.9" y="255.1" font-size="5.5" text-anchor="middle" fill="#1a1a1a">15,97m²</text>
<text x="592" y="347.8" font-size="5.5" text-anchor="middle" fill="#1a1a1a">25</text>
<text x="592" y="354.4" font-size="5.5" text-anchor="middle" fill="#1a1a1a">Büro</text>
<text x="592" y="361.1" font-size="5.5" text-anchor="middle" fill="#1a1a1a">15,94m²</text>
<text x="640.8" y="341.8" font-size="5.5" text-anchor="middle" fill="#1a1a1a">01.01.02</text>
<text x="640.8" y="348.6" font-size="5.5" text-anchor="middle" fill="#1a1a1a">Flur</text>
<text x="640.8" y="354.8" font-size="5.5" text-anchor="middle" fill="#1a1a1a">105,83m²</text>
<text x="694.7" y="348.6" font-size="5.5" text-anchor="middle" fill="#1a1a1a">33</text>
<text x="694.7" y="355.6" font-size="5.5" text-anchor="middle" fill="#1a1a1a">Büro</text>
<text x="694.7" y="361.6" font-size="5.5" text-anchor="middle" fill="#1a1a1a">16,2m²</text>
<text x="760" y="348.6" font-size="5.5" text-anchor="middle" fill="#1a1a1a">32</text>
<text x="760" y="355.6" font-size="5.5" text-anchor="middle" fill="#1a1a1a">Büro</text>
<text x="760" y="361.6" font-size="5.5" text-anchor="middle" fill="#1a1a1a">16,2m²</text>
<text x="824.4" y="348.6" font-size="5.5" text-anchor="middle" fill="#1a1a1a">31</text>
<text x="824.4" y="355.3" font-size="5.5" text-anchor="middle" fill="#1a1a1a">Büro</text>
<text x="824.4" y="361.6" font-size="5.5" text-anchor="middle" fill="#1a1a1a">16,2m²</text>
<text x="408.4" y="427.9" font-size="5.5" text-anchor="middle" fill="#1a1a1a">22</text>
<text x="408.4" y="434.1" font-size="5.5" text-anchor="middle" fill="#1a1a1a">Büro</text>
<text x="408.4" y="440.1" font-size="5.5" text-anchor="middle" fill="#1a1a1a">17,28m²</text>
<text x="472.6" y="427.1" font-size="5.5" text-anchor="middle" fill="#1a1a1a">23</text>
<text x="472.6" y="434.1" font-size="5.5" text-anchor="middle" fill="#1a1a1a">Büro</text>
<text x="472.6" y="440.1" font-size="5.5" text-anchor="middle" fill="#1a1a1a">17,28m²</text>
<text x="534.4" y="427.9" font-size="5.5" text-anchor="middle" fill="#1a1a1a">24</text>
<text x="534.4" y="434.1" font-size="5.5" text-anchor="middle" fill="#1a1a1a">Büro</text>
<text x="534.4" y="440.9" font-size="5.5" text-anchor="middle" fill="#1a1a1a">17,28m²</text>
<text x="287.1" y="461.3" font-size="5.5" text-anchor="middle" fill="#1a1a1a">Treppe</text>
<text x="346.5" y="456.4" font-size="5.5" text-anchor="middle" fill="#1a1a1a">Aufzugs-</text>
<text x="346.5" y="462.2" font-size="5.5" text-anchor="middle" fill="#1a1a1a">vorraum</text>
<text x="413.7" y="538.1" font-size="5.5" text-anchor="middle" fill="#1a1a1a">36</text>
<text x="413.7" y="545.2" font-size="5.5" text-anchor="middle" fill="#1a1a1a">kl. Besprechung</text>
<text x="495.6" y="539.1" font-size="5.5" text-anchor="middle" fill="#1a1a1a">35 a</text>
<text x="495.6" y="546.2" font-size="5.5" text-anchor="middle" fill="#1a1a1a">gr. Besprechung</text>
<text x="615.4" y="539.1" font-size="5.5" text-anchor="middle" fill="#1a1a1a">35</text>
<text x="615.4" y="545.2" font-size="5.5" text-anchor="middle" fill="#1a1a1a">Großraumbüro</text>
<text x="656.2" y="467.2" font-size="5.5" text-anchor="middle" fill="#1a1a1a">34</text>
<text x="656.2" y="473.7" font-size="5.5" text-anchor="middle" fill="#1a1a1a">Büro</text>
<text x="656.2" y="479.7" font-size="5.5" text-anchor="middle" fill="#1a1a1a">16,42m²</text>
<text x="263.8" y="560.1" font-size="5.5" text-anchor="middle" fill="#1a1a1a">WC-D</text>
<text x="263.8" y="566.1" font-size="5.5" text-anchor="middle" fill="#1a1a1a">3,69m²</text>
<text x="263.8" y="588.2" font-size="5.5" text-anchor="middle" fill="#1a1a1a">WC-D</text>
<text x="263.8" y="594.9" font-size="5.5" text-anchor="middle" fill="#1a1a1a">6,41m²</text>
<text x="319.7" y="560.1" font-size="5.5" text-anchor="middle" fill="#1a1a1a">WC-H</text>
<text x="319.7" y="566.1" font-size="5.5" text-anchor="middle" fill="#1a1a1a">5,44m²</text>
<text x="319.7" y="589.2" font-size="5.5" text-anchor="middle" fill="#1a1a1a">WC-H</text>
<text x="319.7" y="595.9" font-size="5.5" text-anchor="middle" fill="#1a1a1a">9,55m²</text>
<text x="356.6" y="559.1" font-size="5.5" text-anchor="middle" fill="#1a1a1a">Kopierer</text>
<text x="356.6" y="566.1" font-size="5.5" text-anchor="middle" fill="#1a1a1a">4,85m²</text>
<text x="356.6" y="596.9" font-size="5.5" text-anchor="middle" fill="#1a1a1a">Server</text>
<text x="356.6" y="603" font-size="5.5" text-anchor="middle" fill="#1a1a1a">4,76m²</text>
<text x="413.5" y="608" font-size="5.5" text-anchor="middle" fill="#1a1a1a">36 a</text>
<text x="413.5" y="614" font-size="5.5" text-anchor="middle" fill="#1a1a1a">Archiv</text>
<text x="177.9" y="570" font-size="5.5" text-anchor="middle" fill="#1a1a1a">37</text>
<text x="177.9" y="576.2" font-size="5.5" text-anchor="middle" fill="#1a1a1a">Großraumbüro</text>
<text x="177.9" y="582.3" font-size="5.5" text-anchor="middle" fill="#1a1a1a">38,58m²</text>
<text x="102" y="353.4" font-size="5.5" text-anchor="middle" fill="#1a1a1a">20</text>
<text x="102" y="359.1" font-size="5.5" text-anchor="middle" fill="#1a1a1a">Büro</text>
<text x="122.1" y="431.1" font-size="5.5" text-anchor="middle" fill="#1a1a1a">20</text>
<text x="122.1" y="437.8" font-size="5.5" text-anchor="middle" fill="#1a1a1a">Büro</text>
<text x="122.1" y="444.1" font-size="5.5" text-anchor="middle" fill="#1a1a1a">40,73m²</text>
<text x="210" y="432.8" font-size="5.5" text-anchor="middle" fill="#1a1a1a">21</text>
<text x="210" y="439.1" font-size="5.5" text-anchor="middle" fill="#1a1a1a">Büro</text>
<text x="210" y="445.4" font-size="5.5" text-anchor="middle" fill="#1a1a1a">23,87m²</text>
<text x="222.3" y="522.9" font-size="5.5" fill="#1a1a1a" xml:space="preserve">Flur    54,2 m²</text>
<text x="495.5" y="526.7" font-size="4.2" text-anchor="middle" fill="#111">Glaswand</text>
<g transform="translate(445.25 379.75) rotate(0)">
<rect x="-15.75" y="-16.55" width="31.5" height="33.1" rx="2.4" fill="#0c68b7"/>
<text transform="translate(0.45 12.81) scale(1 1)" font-size="35.77" font-weight="bold" fill="#fff" stroke="#fff" stroke-width="0.7" stroke-linejoin="round" text-anchor="middle">P</text>
</g>
<g transform="translate(505.15 379.45) rotate(0)">
<rect x="-15.75" y="-16.75" width="31.5" height="33.5" rx="2.4" fill="#0c68b7"/>
<text transform="translate(0.45 12.97) scale(0.99 1)" font-size="36.22" font-weight="bold" fill="#fff" stroke="#fff" stroke-width="0.7" stroke-linejoin="round" text-anchor="middle">P</text>
</g>
<g transform="translate(735.6 596.05) rotate(0)">
<rect x="-15.6" y="-17.05" width="31.2" height="34.1" rx="2.4" fill="#0c68b7"/>
<text transform="translate(0.45 13.2) scale(0.96 1)" font-size="36.88" font-weight="bold" fill="#fff" stroke="#fff" stroke-width="0.7" stroke-linejoin="round" text-anchor="middle">P</text>
</g>
<g transform="translate(783.8 595.4) rotate(0)">
<rect x="-15.8" y="-17.1" width="31.6" height="34.2" rx="2.4" fill="#0c68b7"/>
<text transform="translate(0.45 13.24) scale(0.97 1)" font-size="37" font-weight="bold" fill="#fff" stroke="#fff" stroke-width="0.7" stroke-linejoin="round" text-anchor="middle">P</text>
</g>
<g transform="translate(830.7 594.55) rotate(0)">
<rect x="-15.8" y="-17.25" width="31.6" height="34.5" rx="2.4" fill="#0c68b7"/>
<text transform="translate(0.45 13.36) scale(0.96 1)" font-size="37.33" font-weight="bold" fill="#fff" stroke="#fff" stroke-width="0.7" stroke-linejoin="round" text-anchor="middle">P</text>
</g>
<g transform="translate(876 594) rotate(0)">
<rect x="-15.9" y="-17.3" width="31.8" height="34.6" rx="2.4" fill="#0c68b7"/>
<text transform="translate(0.45 13.4) scale(0.96 1)" font-size="37.44" font-weight="bold" fill="#fff" stroke="#fff" stroke-width="0.7" stroke-linejoin="round" text-anchor="middle">P</text>
</g>
<g transform="translate(920.85 594.5) rotate(0)">
<rect x="-15.95" y="-17.3" width="31.9" height="34.6" rx="2.4" fill="#0c68b7"/>
<text transform="translate(0.45 13.4) scale(0.97 1)" font-size="37.44" font-weight="bold" fill="#fff" stroke="#fff" stroke-width="0.7" stroke-linejoin="round" text-anchor="middle">P</text>
</g>
<g transform="translate(964.95 594) rotate(0)">
<rect x="-15.95" y="-17.3" width="31.9" height="34.6" rx="2.4" fill="#0c68b7"/>
<text transform="translate(0.45 13.4) scale(0.97 1)" font-size="37.44" font-weight="bold" fill="#fff" stroke="#fff" stroke-width="0.7" stroke-linejoin="round" text-anchor="middle">P</text>
</g>
<g transform="translate(555.55 178.45) rotate(-90)">
<rect x="-14.65" y="-17.95" width="29.3" height="35.9" rx="2.4" fill="#0c68b7"/>
<text transform="translate(0.6 13.87) scale(0.89 1)" font-size="38.74" font-weight="bold" fill="#fff" stroke="#fff" stroke-width="0.8" stroke-linejoin="round" text-anchor="middle">P</text>
</g>
<g transform="translate(642 178.85) rotate(-90)">
<rect x="-14.55" y="-18" width="29.1" height="36" rx="2.4" fill="#0c68b7"/>
<text transform="translate(0.6 13.91) scale(0.88 1)" font-size="38.85" font-weight="bold" fill="#fff" stroke="#fff" stroke-width="0.8" stroke-linejoin="round" text-anchor="middle">P</text>
</g>
<g transform="translate(722.65 179.15) rotate(-90)">
<rect x="-14.65" y="-17.95" width="29.3" height="35.9" rx="2.4" fill="#0c68b7"/>
<text transform="translate(0.6 13.87) scale(0.89 1)" font-size="38.74" font-weight="bold" fill="#fff" stroke="#fff" stroke-width="0.8" stroke-linejoin="round" text-anchor="middle">P</text>
</g>
<g transform="translate(807.45 179.75) rotate(-90)">
<rect x="-14.85" y="-18.25" width="29.7" height="36.5" rx="2.4" fill="#0c68b7"/>
<text transform="translate(0.6 14.11) scale(0.89 1)" font-size="39.41" font-weight="bold" fill="#fff" stroke="#fff" stroke-width="0.8" stroke-linejoin="round" text-anchor="middle">P</text>
</g>
<g transform="translate(888.95 179.75) rotate(-90)">
<rect x="-14.85" y="-18.05" width="29.7" height="36.1" rx="2.4" fill="#0c68b7"/>
<text transform="translate(0.6 13.95) scale(0.9 1)" font-size="38.97" font-weight="bold" fill="#fff" stroke="#fff" stroke-width="0.8" stroke-linejoin="round" text-anchor="middle">P</text>
</g>
<g transform="translate(972.5 180.25) rotate(-90)">
<rect x="-14.75" y="-18.5" width="29.5" height="37" rx="2.4" fill="#0c68b7"/>
<text transform="translate(0.6 14.31) scale(0.87 1)" font-size="39.97" font-weight="bold" fill="#fff" stroke="#fff" stroke-width="0.8" stroke-linejoin="round" text-anchor="middle">P</text>
</g>
<g transform="translate(746.9 428.45) rotate(-90)">
<rect x="-14.65" y="-18.1" width="29.3" height="36.2" rx="2.4" fill="#0c68b7"/>
<text transform="translate(0.6 13.99) scale(0.88 1)" font-size="39.08" font-weight="bold" fill="#fff" stroke="#fff" stroke-width="0.8" stroke-linejoin="round" text-anchor="middle">P</text>
</g>
<g transform="translate(817.2 428.45) rotate(-90)">
<rect x="-14.65" y="-18.2" width="29.3" height="36.4" rx="2.4" fill="#0c68b7"/>
<text transform="translate(0.6 14.07) scale(0.88 1)" font-size="39.3" font-weight="bold" fill="#fff" stroke="#fff" stroke-width="0.8" stroke-linejoin="round" text-anchor="middle">P</text>
</g>
<g transform="translate(1010 251.2) rotate(-77.4)">
<rect x="-14.2" y="-18.35" width="28.4" height="36.7" rx="2.4" fill="#0c68b7"/>
<text transform="translate(0.6 14.19) scale(0.85 1)" font-size="39.63" font-weight="bold" fill="#fff" stroke="#fff" stroke-width="0.8" stroke-linejoin="round" text-anchor="middle">P</text>
</g>
<g transform="translate(1009.6 305.6) rotate(-77.4)">
<rect x="-14.2" y="-18.35" width="28.4" height="36.7" rx="2.4" fill="#0c68b7"/>
<text transform="translate(0.6 14.19) scale(0.85 1)" font-size="39.63" font-weight="bold" fill="#fff" stroke="#fff" stroke-width="0.8" stroke-linejoin="round" text-anchor="middle">P</text>
</g>
<g transform="translate(1009.4 364.5) rotate(-77.4)">
<rect x="-14.2" y="-18.35" width="28.4" height="36.7" rx="2.4" fill="#0c68b7"/>
<text transform="translate(0.6 14.19) scale(0.85 1)" font-size="39.63" font-weight="bold" fill="#fff" stroke="#fff" stroke-width="0.8" stroke-linejoin="round" text-anchor="middle">P</text>
</g>
<g transform="translate(1008.7 425.2) rotate(-77.4)">
<rect x="-14.2" y="-18.35" width="28.4" height="36.7" rx="2.4" fill="#0c68b7"/>
<text transform="translate(0.6 14.19) scale(0.85 1)" font-size="39.63" font-weight="bold" fill="#fff" stroke="#fff" stroke-width="0.8" stroke-linejoin="round" text-anchor="middle">P</text>
</g>
<g transform="translate(1007.8 483.4) rotate(-77.4)">
<rect x="-14.2" y="-18.35" width="28.4" height="36.7" rx="2.4" fill="#0c68b7"/>
<text transform="translate(0.6 14.19) scale(0.85 1)" font-size="39.63" font-weight="bold" fill="#fff" stroke="#fff" stroke-width="0.8" stroke-linejoin="round" text-anchor="middle">P</text>
</g>
<g transform="translate(1007.6 548.4) rotate(-77.4)">
<rect x="-14.2" y="-18.35" width="28.4" height="36.7" rx="2.4" fill="#0c68b7"/>
<text transform="translate(0.6 14.19) scale(0.85 1)" font-size="39.63" font-weight="bold" fill="#fff" stroke="#fff" stroke-width="0.8" stroke-linejoin="round" text-anchor="middle">P</text>
</g>
<rect x="266.3" y="365" width="68.2" height="15.6" fill="#fff" stroke="#d6d6d6" stroke-width="0.9"/>
<text x="280" y="377.1" font-size="10.7" font-weight="bold" textLength="40.7" lengthAdjust="spacingAndGlyphs" fill="#111" stroke="#111" stroke-width="0.2">Zugang 2</text>
<rect x="883.3" y="307.7" width="67.4" height="15.6" fill="#fff" stroke="#d6d6d6" stroke-width="0.9"/>
<text x="896.8" y="319.1" font-size="10.7" font-weight="bold" textLength="41" lengthAdjust="spacingAndGlyphs" fill="#111" stroke="#111" stroke-width="0.2">Zugang 3</text>
<rect x="903.7" y="619.5" width="147.6" height="70.2" fill="#fff" stroke="#d6d6d6" stroke-width="0.9"/>
<text x="910" y="630.9" font-size="8.6" textLength="38.6" lengthAdjust="spacingAndGlyphs" fill="#1a1a1a" font-weight="bold" text-decoration="underline">Vermieter:</text>
<text x="910" y="641.3" font-size="8.6" textLength="63.4" lengthAdjust="spacingAndGlyphs" fill="#1a1a1a">O. + C. Graventein</text>
<text x="910" y="651.9" font-size="8.6" textLength="53.4" lengthAdjust="spacingAndGlyphs" fill="#1a1a1a">Urbanusring 3a</text>
<text x="910" y="661.8" font-size="8.6" textLength="51.4" lengthAdjust="spacingAndGlyphs" fill="#1a1a1a">46286 Dorsten</text>
<text x="910" y="673.2" font-size="8.6" textLength="63.9" lengthAdjust="spacingAndGlyphs" fill="#1a1a1a">Tel. 02866 188111</text>
<text x="910" y="682.6" font-size="8.6" textLength="110" lengthAdjust="spacingAndGlyphs" fill="#1a1a1a">Mail: graventein@oskomera.de</text>
<rect x="66.6" y="482.8" width="30" height="68" fill="#fff" opacity="0.55"/>
<text transform="translate(58.3 548.0) rotate(-102.1)" font-size="14.5" font-weight="bold" textLength="82" lengthAdjust="spacingAndGlyphs" fill="#111" stroke="#111" stroke-width="0.35">Wilhelmstaße</text>
<text transform="translate(89.7 537.3) rotate(-98.2)" font-size="10.6" font-weight="bold" textLength="40.5" lengthAdjust="spacingAndGlyphs" fill="#111" stroke="#111" stroke-width="0.25">Zugang 1</text>
<text x="307.6" y="133.6" font-size="22" font-weight="bold" textLength="440.3" lengthAdjust="spacingAndGlyphs" fill="#000">Herten, Wilhelmstraße 7, 1. Obergeschoss</text>
<rect x="307.5" y="136.2" width="440.5" height="2.7" fill="#000"/>
<text x="955.8" y="763.9" font-size="8.1" textLength="87.5" lengthAdjust="spacingAndGlyphs" fill="#111">Wilhelmstr. 7, 1.OG 2017</text>
</svg>
</body>
</html>
